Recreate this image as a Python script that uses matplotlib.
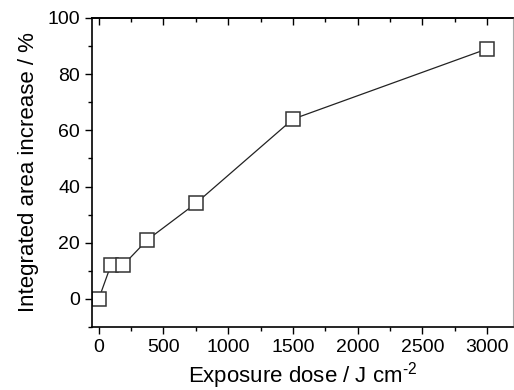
import matplotlib.pyplot as plt
from matplotlib.ticker import MultipleLocator

plt.rcParams['font.family'] = ['Liberation Sans', 'DejaVu Sans']

# exposure dose (J cm^-2) and integrated area increase (%)
dose = [0, 94, 188, 375, 750, 1500, 3000]
increase = [0, 12, 12, 21, 34, 64, 89]

fig = plt.figure(figsize=(5.14, 3.9), dpi=100)
ax = fig.add_axes([92 / 514, 63 / 390, 421 / 514, 309 / 390])

ax.plot(dose, increase, color='#222222', linewidth=0.9, marker='s',
        markersize=9.5, markerfacecolor='white', markeredgecolor='#333333',
        markeredgewidth=1.1)

ax.set_xlim(-52, 3200)
ax.set_ylim(-10, 100)
ax.xaxis.set_major_locator(MultipleLocator(500))
ax.xaxis.set_minor_locator(MultipleLocator(250))
ax.yaxis.set_major_locator(MultipleLocator(20))
ax.yaxis.set_minor_locator(MultipleLocator(10))

ax.tick_params(axis='both', which='both', direction='out', labelsize=14,
               top=False, right=False, width=1.0)
ax.tick_params(axis='both', which='major', length=5)
ax.tick_params(axis='both', which='minor', length=3)

for side in ['left', 'bottom', 'top']:
    ax.spines[side].set_linewidth(1.2)
ax.spines['right'].set_color('#aaaaaa')
ax.spines['right'].set_linewidth(0.8)

# top ticks point inward
ax2 = ax.secondary_xaxis('top')
ax2.xaxis.set_major_locator(MultipleLocator(500))
ax2.xaxis.set_minor_locator(MultipleLocator(250))
ax2.tick_params(which='both', direction='in', labeltop=False, width=1.0)
ax2.tick_params(which='major', length=5)
ax2.tick_params(which='minor', length=3)
ax2.spines['top'].set_linewidth(1.2)

ax.set_xlabel('Exposure dose / J cm$^{\\mathregular{\u2010}\\mathregular{2}}$', fontsize=16, labelpad=3)
ax.set_ylabel('Integrated area increase / %', fontsize=16, labelpad=6)

fig.savefig('out.png', dpi=100)
